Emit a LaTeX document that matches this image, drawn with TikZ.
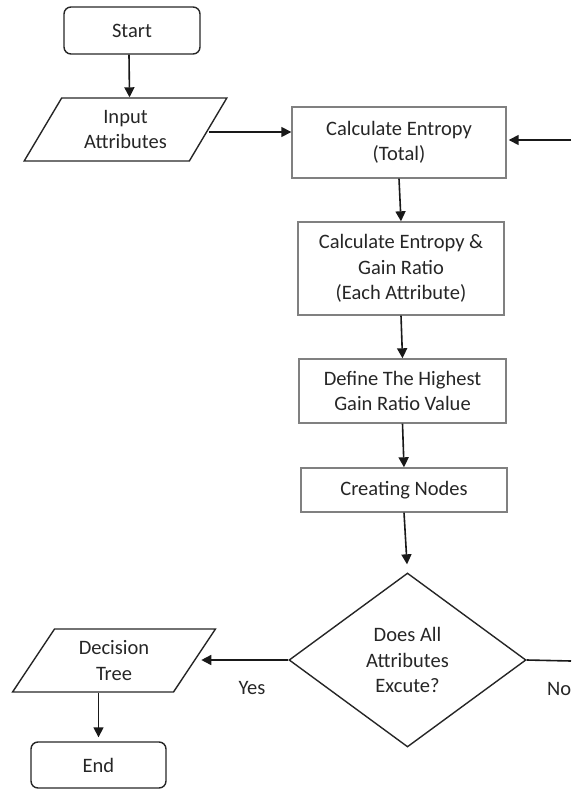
\documentclass[tikz,border=0pt]{standalone}
\usepackage{fontspec}
\setmainfont{Carlito}
\usetikzlibrary{shapes.geometric,arrows.meta}
\definecolor{txt}{HTML}{262626}
\definecolor{boxgrey}{HTML}{808080}
\tikzset{
  base/.style={text=txt,font=\fontsize{20.5}{25.5}\selectfont,align=center,inner sep=0pt,line width=1.4pt},
  procbox/.style={base,draw=boxgrey,rectangle},
  termbox/.style={base,draw=black!85,rectangle,rounded corners=7pt,minimum width=136pt,minimum height=47pt},
  iobox/.style={base,draw=black!85,trapezium,trapezium left angle=58,trapezium right angle=122,trapezium stretches=true,minimum width=203pt,minimum height=63pt},
  decbox/.style={base,draw=black!85,diamond,aspect=1.36,minimum width=237pt,minimum height=174pt},
  lbl/.style={text=txt,font=\fontsize{20.5}{25.5}\selectfont,inner sep=0pt},
  arr/.style={line width=1.6pt,black!90,-{Triangle[length=10pt,width=10pt]}},
  ln/.style={line width=1.6pt,black!90}
}
\begin{document}
\begin{tikzpicture}[x=1pt,y=-1pt]
\useasboundingbox (0,0) rectangle (571,789);
\node[termbox] (start) at (132,30.5) {Start};
\node[iobox] (input) at (125.5,129.5) {Input\\Attributes};
\node[procbox,minimum width=214pt,minimum height=71pt] (ent) at (399,142.5) {Calculate Entropy\\(Total)};
\node[procbox,minimum width=206pt,minimum height=93pt] (gain) at (401,268.5) {Calculate Entropy \&\\Gain Ratio\\(Each Attribute)};
\node[procbox,minimum width=207pt,minimum height=64pt] (high) at (402.5,391) {Define The Highest\\Gain Ratio Value};
\node[procbox,minimum width=206pt,minimum height=44pt] (nodes) at (404,490) {Creating Nodes};
\node[decbox] (dec) at (407.5,660) {Does All\\Attributes\\Excute?};
\node[iobox] (tree) at (114,660.5) {Decision\\Tree};
\node[termbox,minimum width=135pt,minimum height=46pt] (end) at (98.5,765) {End};
\node[lbl] (yes) at (252,688) {Yes};
\node[lbl,anchor=west] (no) at (547,689) {No};
\coordinate (loopin) at (571,140);
\coordinate (loopout) at (571,661);

\draw[arr] ([xshift=-3pt]start.south) -- ([xshift=4pt]input.north);
\draw[arr] ([yshift=-2.5pt]input.east) -- ([yshift=-2.5pt]input.east -| ent.west);
\draw[arr,shorten >=2pt] (loopin) -- (loopin -| ent.east);
\draw[arr] (ent.south) -- (gain.north);
\draw[arr] (gain.south) -- (high.north);
\draw[arr] (high.south) -- (nodes.north);
\draw[arr,shorten >=8pt] (nodes.south) -- (dec.north);
\draw[arr,shorten >=6pt] (dec.west) -- (dec.west -| tree.east);
\draw[ln] (dec.east) -- (loopout);
\draw[arr,shorten >=4pt] (tree.south -| end.north) -- (end.north);
\end{tikzpicture}
\end{document}
